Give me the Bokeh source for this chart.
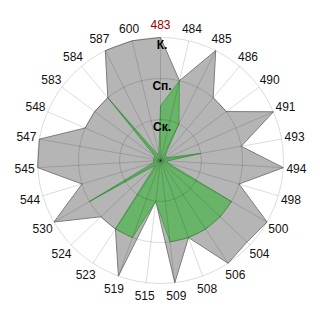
import numpy as np
from bokeh.plotting import figure
from bokeh.models import ColumnDataSource
from bokeh.core.properties import value
from bokeh.embed import file_html
from bokeh.resources import INLINE

# ---- data ----
categories = ["483", "484", "485", "486", "490", "491", "493", "494", "498",
              "500", "504", "506", "508", "509", "515", "519", "523", "524",
              "530", "544", "545", "547", "548", "583", "584", "587", "600"]
grey_values = [3, 2, 3, 2, 2, 3, 2, 3, 2, 3, 2.9, 3, 2, 3, 1, 3, 2, 2,
               3, 2, 3, 3, 2, 2, 2, 3, 3]
green_values = [1.33, 2, 1, 0.17, 0.17, 0.17, 1, 0.17, 0.17, 2, 2, 2, 2, 2, 1, 2, 2, 0.17,
                2, 0.17, 0.17, 0.17, 0.17, 0.17, 2, 0.17, 0.17]
level_values = [1, 2, 3]
level_labels = ["Ск.", "Сп.", "К."]
highlight = "483"

# ---- geometry ----
n = len(categories)
theta = np.arange(n) * 2 * np.pi / n
sx, cy = np.sin(theta), np.cos(theta)
rmax = max(level_values)
half = 160 / 41.0

p = figure(width=320, height=320, x_range=(-half, half), y_range=(-half, half),
           output_backend="svg", toolbar_location=None, min_border=0,
           x_axis_type=None, y_axis_type=None, match_aspect=False)
p.outline_line_color = None
p.background_fill_color = "white"
p.border_fill_color = "white"

gv = np.array(grey_values, dtype=float)
p.patch(list(gv * sx), list(gv * cy), fill_color="#b5b5b5", line_color="#7d7d7d", line_width=1)

ev = np.array(green_values, dtype=float)
p.patch(list(ev * sx), list(ev * cy), fill_color="#68b468", line_color="#4f9e4f", line_width=1)

# grid
p.circle(x=[0] * len(level_values), y=[0] * len(level_values), radius=level_values,
         fill_color=None, line_color="black", line_alpha=0.14, line_width=1)
p.segment(x0=[0] * n, y0=[0] * n, x1=list(rmax * sx), y1=list(rmax * cy),
          line_color="black", line_alpha=0.14, line_width=1)

# category labels
lr = 3.32
colors = ["#990000" if c == highlight else "#111111" for c in categories]
src = ColumnDataSource(dict(x=list(lr * sx), y=list(lr * cy), t=categories, c=colors))
p.text(x="x", y="y", text="t", text_color="c", source=src, text_align="center",
       text_baseline="middle", text_font=value("Liberation Sans"), text_font_size="12px")

# level labels
p.text(x=[0.037] * len(level_values), y=level_values, text=level_labels,
       text_align="center", text_baseline="top", text_font=value("Liberation Sans"),
       text_font_size="12px", text_font_style="bold", text_color="black")

open("out.html", "w").write(file_html(p, INLINE))
